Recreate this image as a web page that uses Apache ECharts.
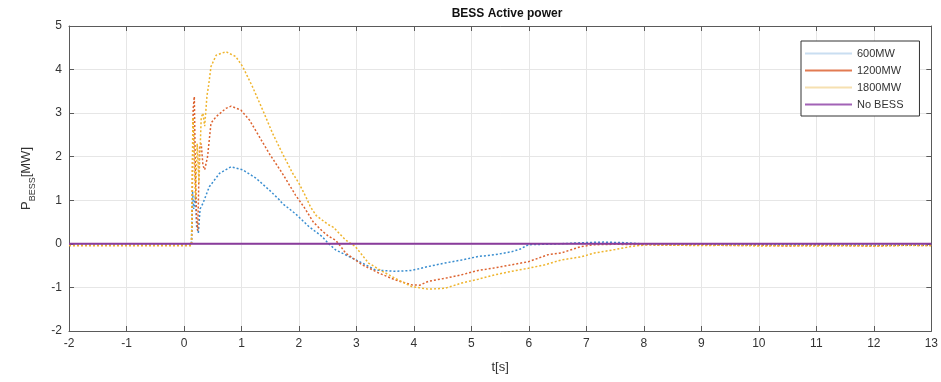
<!DOCTYPE html>
<html>
<head>
<meta charset="utf-8">
<title>BESS Active power</title>
<script src="https://cdn.jsdelivr.net/npm/echarts@6/dist/echarts.min.js"></script>
<style>
  html, body { margin: 0; padding: 0; background: #fff; }
  #chart { width: 941px; height: 382px; }
</style>
</head>
<body>
<div id="chart"></div>
<script>
// values (t in s, P in MW)
const t600 = [-2, -1, 0, 0.13, 0.14, 0.15, 0.17, 0.2, 0.22, 0.25, 0.28, 0.33, 0.44, 0.62, 0.82, 1.02, 1.25, 1.48, 1.66, 1.71, 1.94, 2.17, 2.4, 2.52, 2.64, 2.81, 3.1, 3.33, 3.68, 3.96, 4.25, 4.54, 4.83, 5.12, 5.41, 5.7, 5.85, 5.99, 6.5, 7.0, 7.3, 7.6, 8, 9, 10, 11, 12, 13]
const p600 = [-0.03, -0.03, -0.03, -0.03, 0.6, 1.2, 0.8, 1.1, 0.4, 0.25, 0.8, 0.93, 1.31, 1.62, 1.77, 1.7, 1.51, 1.24, 1.01, 0.93, 0.69, 0.4, 0.17, 0.0, -0.14, -0.25, -0.44, -0.6, -0.63, -0.61, -0.52, -0.44, -0.37, -0.29, -0.25, -0.18, -0.12, -0.02, 0.0, 0.03, 0.04, 0.03, 0.0, -0.01, -0.02, -0.02, -0.03, -0.03]

const t1200 = [-2, -1, 0, 0.13, 0.14, 0.16, 0.18, 0.2, 0.22, 0.24, 0.27, 0.3, 0.33, 0.36, 0.41, 0.47, 0.56, 0.73, 0.82, 0.99, 1.14, 1.31, 1.48, 1.71, 1.94, 2.1, 2.25, 2.4, 2.52, 2.64, 2.75, 2.81, 3.1, 3.39, 3.68, 3.96, 4.1, 4.25, 4.54, 4.83, 5.12, 5.41, 5.7, 5.99, 6.33, 6.56, 6.91, 7.14, 7.5, 8, 8.5, 9, 9.5, 10, 10.5, 11, 11.5, 12, 12.5, 13]
const p1200 = [-0.04, -0.04, -0.04, -0.04, 0.5, 3.1, 3.38, 1.5, 0.6, 0.3, 2.2, 2.3, 1.8, 1.7, 2.0, 2.77, 2.92, 3.11, 3.16, 3.07, 2.84, 2.46, 2.08, 1.62, 1.12, 0.82, 0.5, 0.3, 0.17, 0.08, -0.1, -0.21, -0.48, -0.67, -0.83, -0.94, -0.95, -0.86, -0.79, -0.71, -0.61, -0.55, -0.48, -0.41, -0.25, -0.21, -0.06, -0.02, -0.01, -0.02, -0.03, -0.02, -0.04, -0.03, -0.05, -0.03, -0.04, -0.05, -0.03, -0.04]

const t1800 = [-2, -1, 0, 0.13, 0.14, 0.155, 0.17, 0.2, 0.23, 0.26, 0.3, 0.33, 0.36, 0.4, 0.43, 0.47, 0.56, 0.73, 0.9, 1.02, 1.19, 1.37, 1.54, 1.71, 1.89, 2.0, 2.12, 2.2, 2.3, 2.5, 2.6, 2.81, 2.98, 3.21, 3.45, 3.73, 3.96, 4.25, 4.54, 4.83, 5.12, 5.41, 5.7, 5.99, 6.28, 6.56, 6.9, 7.14, 7.5, 7.78, 8.06, 8.5, 9, 9.5, 10, 10.5, 11, 11.5, 12, 12.5, 13]
const p1800 = [-0.04, -0.04, -0.04, -0.04, 1.0, 2.9, 2.5, 1.0, 2.3, 1.4, 2.9, 3.0, 2.7, 3.4, 3.65, 4.07, 4.33, 4.41, 4.3, 4.07, 3.61, 3.07, 2.54, 2.08, 1.62, 1.39, 1.08, 0.85, 0.65, 0.45, 0.38, 0.09, -0.06, -0.44, -0.63, -0.83, -0.98, -1.04, -1.02, -0.9, -0.81, -0.71, -0.63, -0.56, -0.48, -0.37, -0.3, -0.21, -0.13, -0.06, -0.02, -0.03, -0.04, -0.03, -0.05, -0.04, -0.05, -0.04, -0.05, -0.04, -0.04]

const tNoBess = [-2, 13]
const pNoBess = [0, 0]

const xTicks = [-2, 13]
const yTicks = [-2, 5]

const pairs = (t, p) => t.map((v, i) => [v, p[i]])

const chart = echarts.init(document.getElementById('chart'))
const axisColor = '#5a5a5a'
const labelFont = { color: '#333', fontSize: 12, fontFamily: 'Liberation Sans' }

chart.setOption({
  animation: false,
  title: {
    text: 'BESS Active power',
    left: 502,
    textAlign: 'center',
    top: 3,
    textStyle: { fontSize: 12, fontWeight: 'bold', color: '#111', fontFamily: 'Liberation Sans' }
  },
  legend: {
    orient: 'vertical',
    left: 801,
    top: 41,
    icon: 'rect',
    itemWidth: 47,
    itemHeight: 2,
    itemGap: 6,
    padding: [7, 16, 6, 4],
    borderColor: '#333',
    borderWidth: 1,
    backgroundColor: '#fff',
    textStyle: { color: '#333', fontSize: 11, fontFamily: 'Liberation Sans' },
    data: [
      { name: '600MW', itemStyle: { color: '#c9def1' } },
      { name: '1200MW', itemStyle: { color: '#e27b52' } },
      { name: '1800MW', itemStyle: { color: '#f6e0b0' } },
      { name: 'No BESS', itemStyle: { color: '#a262b6' } }
    ]
  },
  grid: { left: 69, right: 6, top: 26, bottom: 51 },
  xAxis: [
    {
      type: 'value',
      min: xTicks[0],
      max: xTicks[1],
      interval: 1,
      name: 't[s]',
      nameLocation: 'middle',
      nameGap: 30,
      nameTextStyle: { color: '#333', fontSize: 13, fontFamily: 'Liberation Sans' },
      axisLine: { onZero: false, lineStyle: { color: axisColor } },
      axisTick: { inside: true, length: 5, lineStyle: { color: axisColor } },
      axisLabel: Object.assign({ margin: 7 }, labelFont),
      splitLine: { show: true, lineStyle: { color: '#e6e6e6' } }
    },
    {
      type: 'value',
      position: 'top',
      min: xTicks[0],
      max: xTicks[1],
      interval: 1,
      axisLine: { show: true, onZero: false, lineStyle: { color: axisColor } },
      axisTick: { show: true, inside: true, length: 5, lineStyle: { color: axisColor } },
      axisLabel: { show: false },
      splitLine: { show: false }
    }
  ],
  yAxis: [
    {
      type: 'value',
      min: yTicks[0],
      max: yTicks[1],
      interval: 1,
      name: '{p|P}{s|BESS}{p|[MW]}',
      nameLocation: 'middle',
      nameRotate: 90,
      nameGap: 32,
      nameTextStyle: {
        rich: {
          p: { fontSize: 13, lineHeight: 22, color: '#333', fontFamily: 'Liberation Sans' },
          s: { fontSize: 9, lineHeight: 9, verticalAlign: 'bottom', color: '#333', fontFamily: 'Liberation Sans' }
        }
      },
      axisLine: { show: true, onZero: false, lineStyle: { color: axisColor } },
      axisTick: { show: true, inside: true, length: 5, lineStyle: { color: axisColor } },
      axisLabel: Object.assign({ margin: 7 }, labelFont),
      splitLine: { show: true, lineStyle: { color: '#e6e6e6' } }
    },
    {
      type: 'value',
      position: 'right',
      min: yTicks[0],
      max: yTicks[1],
      interval: 1,
      axisLine: { show: true, onZero: false, lineStyle: { color: axisColor } },
      axisTick: { show: true, inside: true, length: 5, lineStyle: { color: axisColor } },
      axisLabel: { show: false },
      splitLine: { show: false }
    }
  ],
  series: [
    {
      name: '600MW',
      type: 'line',
      data: pairs(t600, p600),
      showSymbol: false,
      color: '#2f86cc',
      lineStyle: { width: 1.5, type: [2, 2], color: '#3a8ed0' }
    },
    {
      name: '1200MW',
      type: 'line',
      data: pairs(t1200, p1200),
      showSymbol: false,
      color: '#d95319',
      lineStyle: { width: 1.5, type: [2, 2], color: '#dd6330' }
    },
    {
      name: '1800MW',
      type: 'line',
      data: pairs(t1800, p1800),
      showSymbol: false,
      color: '#edb120',
      lineStyle: { width: 1.5, type: [2, 2], color: '#efb52e' }
    },
    {
      name: 'No BESS',
      type: 'line',
      data: pairs(tNoBess, pNoBess),
      showSymbol: false,
      color: '#7e2f8e',
      z: 5,
      lineStyle: { width: 2, color: '#8a3c9c' }
    }
  ]
}, true)
window.addEventListener('resize', () => { chart.resize() })
</script>
</body>
</html>
